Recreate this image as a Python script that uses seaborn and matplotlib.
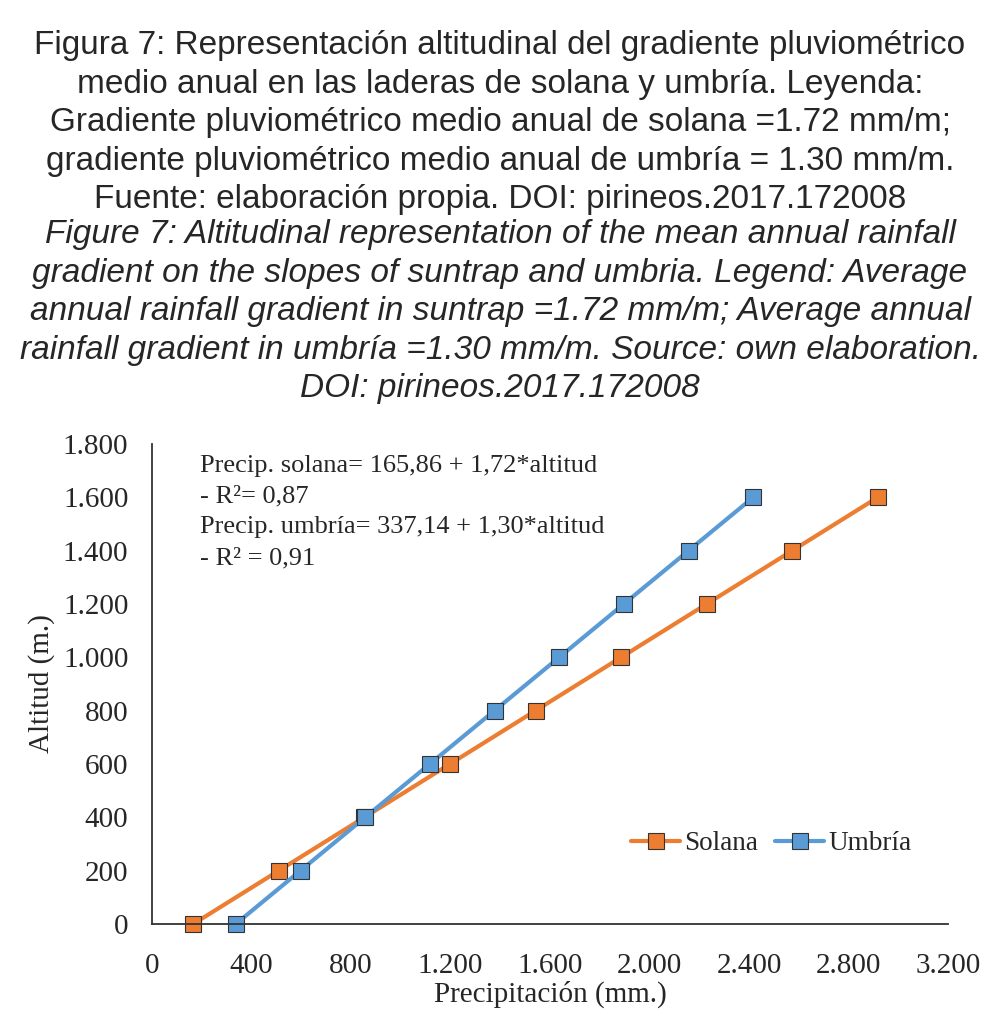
import numpy as np
import pandas as pd
import matplotlib
matplotlib.use('Agg')
import matplotlib.pyplot as plt
import seaborn as sns
from matplotlib.ticker import FuncFormatter
from matplotlib.lines import Line2D

# ── DATA ──────────────────────────────────────────────────────
altitud     = [0, 200, 400, 600, 800, 1000, 1200, 1400, 1600]
prec_solana = [166, 510, 854, 1198, 1542, 1886, 2230, 2574, 2918]
prec_umbria = [337, 597, 857, 1117, 1377, 1637, 1897, 2157, 2417]
series      = ['Solana', 'Umbría']
x_ticks     = [0, 400, 800, 1200, 1600, 2000, 2400, 2800, 3200]
y_ticks     = [0, 200, 400, 600, 800, 1000, 1200, 1400, 1600, 1800]

title_es = ("Figura 7: Representación altitudinal del gradiente pluviométrico\n"
            "medio anual en las laderas de solana y umbría. Leyenda:\n"
            "Gradiente pluviométrico medio anual de solana =1.72 mm/m;\n"
            "gradiente pluviométrico medio anual de umbría = 1.30 mm/m.\n"
            "Fuente: elaboración propia. DOI: pirineos.2017.172008")
title_en = ("Figure 7: Altitudinal representation of the mean annual rainfall\n"
            "gradient on the slopes of suntrap and umbria. Legend: Average\n"
            "annual rainfall gradient in suntrap =1.72 mm/m; Average annual\n"
            "rainfall gradient in umbría =1.30 mm/m. Source: own elaboration.\n"
            "DOI: pirineos.2017.172008")
eq_text = ("Precip. solana= 165,86 + 1,72*altitud\n"
           "- R²= 0,87\n"
           "Precip. umbría= 337,14 + 1,30*altitud\n"
           "- R² = 0,91")

df = pd.DataFrame({
    'Precipitación': prec_solana + prec_umbria,
    'Altitud': altitud + altitud,
    'Serie': [series[0]] * len(altitud) + [series[1]] * len(altitud),
})

COLORS = {'Solana': '#ED7D31', 'Umbría': '#5B9BD5'}

# ── PLOT ──────────────────────────────────────────────────────
sns.set_style('white')
plt.rcParams['font.family'] = ['Liberation Serif', 'DejaVu Serif']

fig = plt.figure(figsize=(10, 10.16), dpi=100)
ax = fig.add_axes([0.152, 0.0906, 0.796, 0.4724])

sns.lineplot(
    data=df, x='Precipitación', y='Altitud', hue='Serie',
    palette=COLORS, marker='s', markersize=11, linewidth=3,
    markeredgecolor='#333333', markeredgewidth=0.8,
    sort=False, estimator=None, ax=ax, legend=False
)

ax.set_xlim(0, 3200)
ax.set_ylim(0, 1800)
ax.set_xticks(x_ticks)
ax.set_yticks(y_ticks)
fmt = FuncFormatter(lambda v, p: f'{int(v):,}'.replace(',', '.'))
ax.xaxis.set_major_formatter(fmt)
ax.yaxis.set_major_formatter(fmt)
ax.tick_params(axis='both', direction='in', length=6, width=1.2,
               color='#333333', labelsize=21, pad=17)
ax.tick_params(axis='x', pad=21)
for side in ['top', 'right']:
    ax.spines[side].set_visible(False)
for side in ['left', 'bottom']:
    ax.spines[side].set_color('#333333')
    ax.spines[side].set_linewidth(1.3)
ax.set_xlabel('Precipitación (mm.)', fontsize=21, labelpad=1)
ax.set_ylabel('Altitud (m.)', fontsize=21, labelpad=6)
for ln in ax.lines:
    ln.set_clip_on(False)

ax.text(0.06, 0.978, eq_text, transform=ax.transAxes, fontsize=19,
        va='top', ha='left', linespacing=1.52)

handles = [Line2D([], [], color=COLORS[s], marker='s', markersize=11,
                  linewidth=3, markeredgecolor='#333333',
                  markeredgewidth=0.8) for s in series]
ax.legend(handles, series, loc='center', bbox_to_anchor=(0.778, 0.167),
          ncol=2, frameon=False, fontsize=19.5, handlelength=1.8,
          handletextpad=0.15, columnspacing=0.65)

# ── CAPTION ───────────────────────────────────────────────────
fig.text(0.5, 0.970, title_es, ha='center', va='top', fontsize=24,
         family=['Liberation Sans', 'DejaVu Sans'], linespacing=1.31)
fig.text(0.5, 0.784, title_en, ha='center', va='top', fontsize=24,
         style='italic', family=['Liberation Sans', 'DejaVu Sans'],
         linespacing=1.31)

fig.savefig('out.png', dpi=100)
